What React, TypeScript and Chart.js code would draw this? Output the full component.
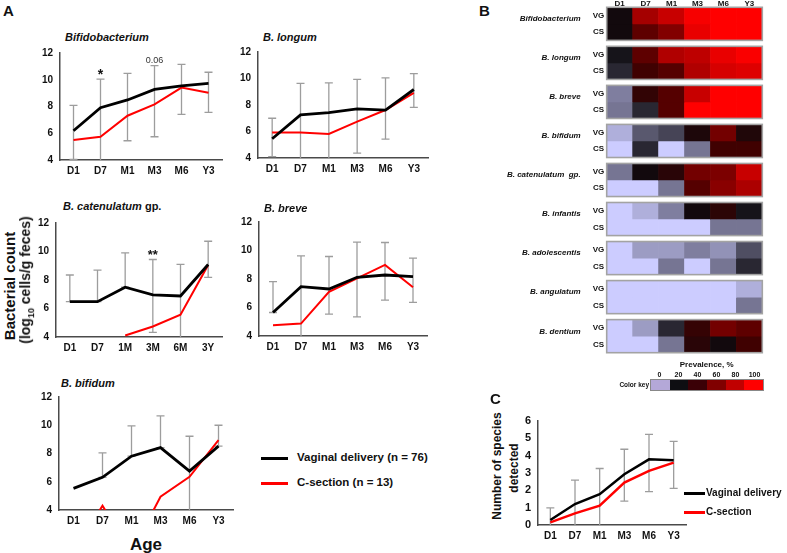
import React, { useEffect, useRef } from 'react';
import { Chart, registerables } from 'chart.js';
Chart.register(...registerables);

const FONT = '"Liberation Sans", Arial, Helvetica, sans-serif';

// ---------- Panel A data ----------
const AGES = ['D1', 'D7', 'M1', 'M3', 'M6', 'Y3'];
const AGES_ALT = ['D1', 'D7', '1M', '3M', '6M', '3Y'];
const A_MIN = 4;
const A_MAX = 12;
const A_STEP = 2;

const bifidoVG = [6.19, 7.91, 8.49, 9.28, 9.55, 9.73];
const bifidoCS = [5.5, 5.74, 7.31, 8.16, 9.41, 9.03];
const bifidoHi = [8.09, 10.05, 10.48, 11.05, 11.15, 10.56];
const bifidoLo = [4.05, 3.5, 5.44, 5.74, 7.41, 7.56];

const longumVG = [5.45, 7.25, 7.42, 7.7, 7.62, 9.17];
const longumCS = [5.92, 5.92, 5.82, 6.75, 7.62, 8.92];
const longumHi = [7.0, 9.63, 9.67, 9.93, 10.05, 10.37];
const longumLo = [4.1, 3.5, 3.5, 4.37, 5.42, 7.82];

const catenVG = [6.48, 6.48, 7.49, 6.95, 6.88, 9.09];
const catenCS = [null, null, 4.11, 4.74, 5.56, 9.05];
const catenHi = [8.35, 8.7, 9.9, 9.44, 9.09, 10.72];
const catenLo = [6.48, 6.48, 7.49, 4.32, 3.5, 8.19];

const breveVG = [5.65, 7.46, 7.3, 8.12, 8.28, 8.17];
const breveCS = [4.75, 4.87, 7.1, 8.05, 8.99, 7.42];
const breveHi = [7.81, 9.62, 9.58, 10.59, 10.56, 9.46];
const breveLo = [5.65, 3.5, 5.53, 5.34, 6.52, 6.36];

const bifidumVG = [5.53, 6.31, 7.81, 8.42, 6.75, 8.52];
const bifidumCS = [1.0, 4.3, 1.0, 4.94, 6.35, 8.94];
const bifidumHi = [null, 8.05, 9.95, 10.66, 9.22, 10.0];
const bifidumLo = [null, 6.31, 7.81, 8.42, 3.5, 8.52];

// ---------- Panel C data ----------
const speciesVG = [0.29, 1.21, 1.78, 2.93, 3.79, 3.74];
const speciesCS = [0.15, 0.67, 1.11, 2.45, 3.12, 3.6];
const speciesHi = [0.99, 2.59, 3.26, 4.37, 5.23, 4.83];
const speciesLo = [-0.5, -0.5, -0.5, 1.38, 1.92, 2.11];

// ---------- Panel B data (prevalence, %) ----------
const SPECIES = ['Bifidobacterium', 'B. longum', 'B. breve', 'B. bifidum', 'B. catenulatum  gp.', 'B. infantis', 'B. adolescentis', 'B. angulatum', 'B. dentium'];
const prevVG = [
  [22, 70, 80, 97, 100, 100],
  [19, 48, 73, 77, 92, 98],
  [8, 33, 45, 80, 100, 100],
  [3, 12, 14, 26, 55, 27],
  [9, 22, 30, 55, 58, 80],
  [0, 3, 8, 22, 31, 19],
  [0, 5, 5, 8, 6, 13],
  [0, 0, 0, 0, 0, 3],
  [0, 5, 17, 34, 55, 48],
];
const prevCS = [
  [22, 48, 60, 92, 100, 100],
  [17, 38, 45, 73, 85, 88],
  [9, 17, 45, 100, 100, 100],
  [0, 17, 0, 9, 38, 38],
  [0, 0, 9, 45, 62, 72],
  [0, 0, 0, 0, 9, 9],
  [0, 0, 9, 0, 9, 17],
  [0, 0, 0, 0, 0, 9],
  [0, 0, 9, 30, 22, 38],
];
const KEY_TICKS = ['0', '20', '40', '60', '80', '100'];
const KEY_COLORS = ['#b4a8d8', '#0e0e12', '#3a0006', '#800000', '#c00000', '#ff0000'];

const STOPS: [number, number[]][] = [
  [0, [204, 204, 255]],
  [20, [12, 10, 14]],
  [40, [70, 0, 0]],
  [60, [130, 0, 0]],
  [80, [200, 0, 0]],
  [100, [255, 0, 0]],
];
function prevColor(v: number) {
  for (let k = 1; k < STOPS.length; k++) {
    const [v1, c1] = STOPS[k];
    const [v0, c0] = STOPS[k - 1];
    if (v <= v1) {
      const t = (v - v0) / (v1 - v0);
      const c = c0.map((x, j) => Math.round(x + (c1[j] - x) * t));
      return `rgb(${c[0]},${c[1]},${c[2]})`;
    }
  }
  return 'rgb(255,0,0)';
}

const YW = 34, PT = 16, PR = 8, XH = 22;

type Note = { i: number; v: number; text: string; font: string; color?: string };
type Area = { left: number; top: number; right: number; bottom: number };

function makeLine(p: any) {
  const plugin = {
    id: 'errbars',
    beforeDatasetsDraw(chart: any) {
      const { ctx, chartArea: a, scales } = chart;
      const x = scales.x, y = scales.y;
      ctx.save();
      ctx.beginPath();
      ctx.rect(a.left - 10, a.top - 30, a.right - a.left + 20, a.bottom - a.top + 30);
      ctx.clip();
      ctx.strokeStyle = '#9d9d9d';
      ctx.lineWidth = 1.3;
      p.hi.forEach((h: number | null, i: number) => {
        const l = p.lo[i];
        if (h == null || l == null) return;
        const px = x.getPixelForValue(i);
        const yt = y.getPixelForValue(h);
        const yb = y.getPixelForValue(l);
        ctx.beginPath();
        ctx.moveTo(px, yt); ctx.lineTo(px, yb);
        ctx.moveTo(px - 4, yt); ctx.lineTo(px + 4, yt);
        ctx.moveTo(px - 4, yb); ctx.lineTo(px + 4, yb);
        ctx.stroke();
      });
      ctx.restore();
    },
    afterDatasetsDraw(chart: any) {
      const { ctx, scales } = chart;
      (p.notes || []).forEach((n: Note) => {
        ctx.save();
        ctx.font = n.font;
        ctx.fillStyle = n.color || '#111';
        ctx.textAlign = 'center';
        ctx.textBaseline = 'alphabetic';
        ctx.fillText(n.text, scales.x.getPixelForValue(n.i), scales.y.getPixelForValue(n.v));
        ctx.restore();
      });
    },
  };
  const axisBorder = { display: true, color: '#4a4a4a', width: 1.5 };
  return {
    type: 'line',
    data: {
      labels: p.labels,
      datasets: [
        { data: p.vg, borderColor: '#000000', borderWidth: p.vgW, pointRadius: 0, tension: 0, order: 0, clip: { left: 5, right: 5, top: 5, bottom: 0 } },
        { data: p.cs, borderColor: '#ff0000', borderWidth: p.csW, pointRadius: 0, tension: 0, order: 1, clip: { left: 5, right: 5, top: 5, bottom: 0 } },
      ],
    },
    options: {
      responsive: false,
      animation: false,
      events: [],
      layout: { padding: { top: PT, right: PR, left: 0, bottom: 0 } },
      plugins: { legend: { display: false }, tooltip: { enabled: false }, title: { display: false } },
      scales: {
        x: {
          type: 'category',
          offset: true,
          grid: { display: false, drawTicks: false },
          border: axisBorder,
          ticks: { font: { family: FONT, size: 10, weight: 'bold' }, color: '#111', padding: 5, maxRotation: 0, autoSkip: false },
          afterFit: (s: any) => { s.height = XH; },
        },
        y: {
          min: p.min,
          max: p.max,
          grid: { display: false, drawTicks: false },
          border: axisBorder,
          ticks: { stepSize: p.step, font: { family: FONT, size: p.ySize || 10, weight: 'bold' }, color: '#111', padding: 7 },
          afterFit: (s: any) => { s.width = YW; },
        },
      },
    },
    plugins: [plugin],
  };
}

function CanvasChart({ left, top, width, height, make }: { left: number; top: number; width: number; height: number; make: () => any }) {
  const ref = useRef<HTMLCanvasElement>(null);
  useEffect(() => {
    const c = new Chart(ref.current as HTMLCanvasElement, make());
    return () => c.destroy();
  }, []);
  return (
    <canvas
      ref={ref}
      width={width}
      height={height}
      style={{ position: 'absolute', left, top, width, height }}
    />
  );
}

function LinePanel(props: { area: Area; labels: string[]; vg: any[]; cs: any[]; hi: any[]; lo: any[]; notes?: Note[]; min?: number; max?: number; step?: number; vgW?: number; csW?: number; ySize?: number }) {
  const { area } = props;
  const left = area.left - YW;
  const top = area.top - PT;
  const width = Math.round(area.right - area.left + YW + PR);
  const height = Math.round(area.bottom - area.top + PT + XH);
  const p = {
    ...props,
    min: props.min ?? A_MIN,
    max: props.max ?? A_MAX,
    step: props.step ?? A_STEP,
    vgW: props.vgW ?? 2.8,
    csW: props.csW ?? 2,
  };
  return <CanvasChart left={left} top={top} width={width} height={height} make={() => makeLine(p)} />;
}

// ---------- Heatmap ----------
const GAP = 0.36;
const BLOCK = 2 + GAP;
const TOTAL = SPECIES.length * 2 + (SPECIES.length - 1) * GAP;

function makeHeat() {
  const datasets: any[] = [];
  SPECIES.forEach((_, s) => {
    [prevVG[s], prevCS[s]].forEach((vals, r) => {
      const top = s * BLOCK + r;
      datasets.push({
        data: AGES.map(() => [top, top + 1]),
        backgroundColor: vals.map(prevColor),
        borderWidth: 0,
        borderSkipped: false,
        grouped: false,
        barPercentage: 1,
        categoryPercentage: 1,
      });
    });
  });
  const plugin = {
    id: 'heatlabels',
    afterDatasetsDraw(chart: any) {
      const { ctx, chartArea: a, scales } = chart;
      const y = scales.y, x = scales.x;
      ctx.save();
      ctx.strokeStyle = '#a3a3a3';
      ctx.lineWidth = 1.6;
      SPECIES.forEach((name, s) => {
        const t = y.getPixelForValue(s * BLOCK);
        const b = y.getPixelForValue(s * BLOCK + 2);
        ctx.strokeRect(a.left, t, a.right - a.left, b - t);
        ctx.fillStyle = '#111';
        ctx.font = `italic bold 8px ${FONT}`;
        ctx.textAlign = 'right';
        ctx.textBaseline = 'middle';
        ctx.fillText(name, a.left - 26, t + 11.7);
        ctx.font = `bold 8px ${FONT}`;
        ctx.fillText('VG', a.left - 2.5, y.getPixelForValue(s * BLOCK + 0.5));
        ctx.fillText('CS', a.left - 2.5, y.getPixelForValue(s * BLOCK + 1.5));
      });
      ctx.font = `bold 8px ${FONT}`;
      ctx.textAlign = 'center';
      ctx.textBaseline = 'middle';
      AGES.forEach((lab, i) => ctx.fillText(lab, x.getPixelForValue(i), a.top - 4));
      ctx.restore();
    },
  };
  return {
    type: 'bar',
    data: { labels: AGES, datasets },
    options: {
      responsive: false,
      animation: false,
      events: [],
      layout: { padding: { left: 186.7, right: 24.7, top: 7.3, bottom: 7.3 } },
      plugins: { legend: { display: false }, tooltip: { enabled: false } },
      scales: {
        x: { type: 'category', display: false, offset: true },
        y: { type: 'linear', display: false, min: 0, max: TOTAL, reverse: true },
      },
    },
    plugins: [plugin],
  };
}

function T({ x, y, children, size = 10, bold = true, italic = false, align = 'left', color = '#111' }: any) {
  const tx = align === 'center' ? '-50%' : align === 'right' ? '-100%' : '0';
  return (
    <div
      style={{
        position: 'absolute',
        left: x,
        top: y,
        transform: `translate(${tx}, -50%)`,
        fontFamily: FONT,
        fontSize: size,
        fontWeight: bold ? 'bold' : 'normal',
        fontStyle: italic ? 'italic' : 'normal',
        lineHeight: 1,
        whiteSpace: 'nowrap',
        color,
      }}
    >
      {children}
    </div>
  );
}

function VText({ x, y, size, children }: any) {
  return (
    <div
      style={{
        position: 'absolute',
        left: x,
        top: y,
        transform: 'translate(-50%, -50%) rotate(-90deg)',
        fontFamily: FONT,
        fontSize: size,
        fontWeight: 'bold',
        lineHeight: 1,
        whiteSpace: 'nowrap',
        color: '#111',
      }}
    >
      {children}
    </div>
  );
}

function Swatch({ x1, x2, y, color, h = 3 }: any) {
  return <div style={{ position: 'absolute', left: x1, top: y - h / 2, width: x2 - x1, height: h, background: color }} />;
}

export default function App() {
  return (
    <div style={{ position: 'fixed', left: 0, top: 0, width: 787, height: 553, background: '#fff', overflow: 'hidden' }}>
      {/* Panel A */}
      <T x={3} y={10} size={15}>A</T>
      <T x={65} y={37} size={11} italic>Bifidobacterium</T>
      <LinePanel area={{ left: 60, top: 53, right: 222, bottom: 160 }} labels={AGES} vg={bifidoVG} cs={bifidoCS} hi={bifidoHi} lo={bifidoLo}
        notes={[
          { i: 1, v: 10.05, text: '*', font: `bold 14px ${FONT}` },
          { i: 3, v: 11.22, text: '0.06', font: `9px ${FONT}`, color: '#333' },
        ]} />
      <T x={263} y={37} size={11} italic>B. longum</T>
      <LinePanel area={{ left: 258, top: 52, right: 428, bottom: 158 }} labels={AGES} vg={longumVG} cs={longumCS} hi={longumHi} lo={longumLo} />
      <T x={63} y={206} size={11} italic>B. catenulatum <span style={{ fontStyle: 'normal' }}>gp.</span></T>
      <LinePanel area={{ left: 56, top: 223, right: 221.6, bottom: 337 }} labels={AGES_ALT} vg={catenVG} cs={catenCS} hi={catenHi} lo={catenLo}
        notes={[{ i: 3, v: 9.44, text: '**', font: `bold 13px ${FONT}` }]} />
      <T x={264} y={208} size={11} italic>B. breve</T>
      <LinePanel area={{ left: 259, top: 222, right: 427, bottom: 336 }} labels={AGES} vg={breveVG} cs={breveCS} hi={breveHi} lo={breveLo} />
      <T x={61} y={383} size={11} italic>B. bifidum</T>
      <LinePanel area={{ left: 58.5, top: 397, right: 232.5, bottom: 510 }} labels={AGES} vg={bifidumVG} cs={bifidumCS} hi={bifidumHi} lo={bifidumLo} />

      <VText x={9} y={286} size={15}>Bacterial count</VText>
      <VText x={27} y={280} size={14}>(log<sub style={{ fontSize: 9 }}>10</sub> cells/g feces)</VText>
      <T x={146} y={544} size={17} align="center">Age</T>

      <Swatch x1={261} x2={288} y={458} color="#000" h={3} />
      <T x={297} y={458} size={11.5}>Vaginal delivery (n = 76)</T>
      <Swatch x1={261} x2={288} y={483} color="#ff0000" h={3} />
      <T x={297} y={483} size={11.5}>C-section (n = 13)</T>

      {/* Panel B */}
      <T x={479} y={10} size={15}>B</T>
      <CanvasChart left={420} top={0} width={367} height={360} make={makeHeat} />
      <T x={706.7} y={365} size={8} align="center">Prevalence, %</T>
      {KEY_TICKS.map((t, i) => (
        <T key={t} x={659.5 + i * 19} y={374} size={7} align="center">{t}</T>
      ))}
      <T x={649} y={385} size={6.5} align="right">Color key</T>
      <div style={{ position: 'absolute', left: 650, top: 378.5, width: 114, height: 12, display: 'flex', border: '0.5px solid #888', boxSizing: 'border-box' }}>
        {KEY_COLORS.map((c) => <div key={c} style={{ flex: 1, background: c }} />)}
      </div>

      {/* Panel C */}
      <T x={490} y={398} size={15}>C</T>
      <VText x={497} y={466} size={12}>Number of species</VText>
      <VText x={514} y={468} size={12}>detected</VText>
      <LinePanel area={{ left: 537.7, top: 420.7, right: 685.3, bottom: 525 }} labels={AGES} vg={speciesVG} cs={speciesCS} hi={speciesHi} lo={speciesLo}
        min={0} max={6} step={1} vgW={2.5} csW={2.5} ySize={11} />
      <Swatch x1={684} x2={705} y={493} color="#000" h={3} />
      <T x={706} y={493} size={10}>Vaginal delivery</T>
      <Swatch x1={684} x2={705} y={512} color="#ff0000" h={3} />
      <T x={706} y={512} size={10}>C-section</T>
    </div>
  );
}
